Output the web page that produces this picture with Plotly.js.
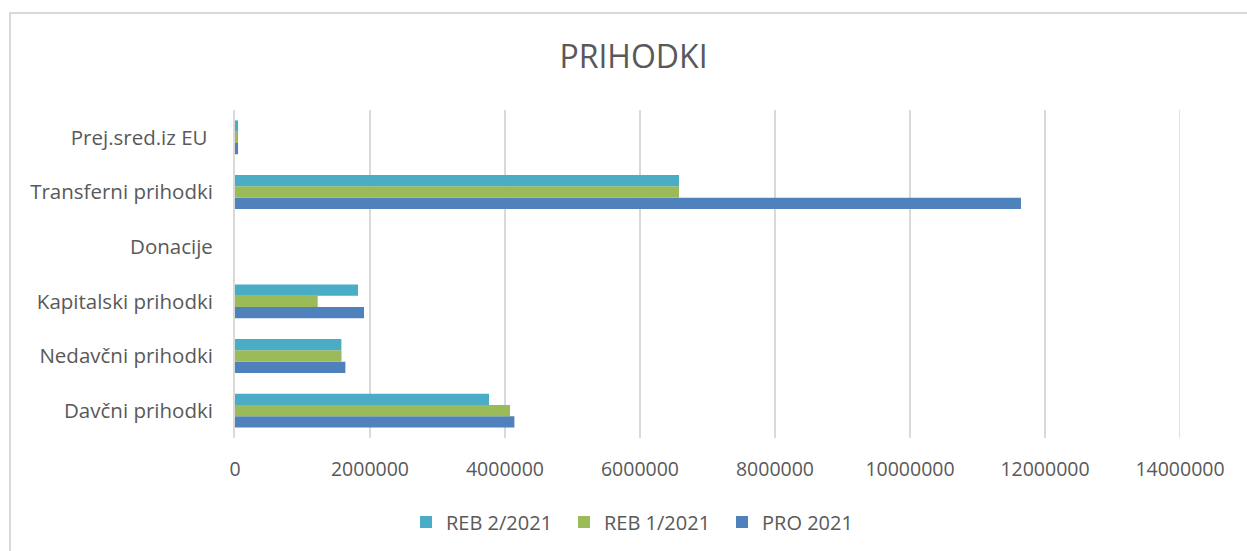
<!DOCTYPE html>
<html>
<head>
<meta charset="utf-8">
<script src="https://cdn.plot.ly/plotly-3.0.1.min.js"></script>
<style>html,body{margin:0;padding:0;background:#fff;}#chart{width:1247px;height:551px;}</style>
</head>
<body>
<div id="chart"></div>
<script>
const categories = ["Davčni prihodki", "Nedavčni prihodki", "Kapitalski prihodki", "Donacije", "Transferni prihodki", "Prej.sred.iz EU\u00a0"];
const pro2021 = [4139000, 1635000, 1911000, 0, 11644000, 45000];
const reb1_2021 = [4074000, 1578000, 1225000, 0, 6578000, 45000];
const reb2_2021 = [3763000, 1576000, 1822000, 0, 6578000, 45000];
const seriesNames = ["PRO 2021", "REB 1/2021", "REB 2/2021"];
const seriesColors = ["#4F81BD", "#9BBB59", "#4BACC6"];
const xTicks = [0, 2000000, 4000000, 6000000, 8000000, 10000000, 12000000, 14000000];

const font = "Open Sans, Calibri, sans-serif";
const vals = [pro2021, reb1_2021, reb2_2021];
const data = vals.map((v, i) => ({
  type: "bar", orientation: "h", y: categories, x: v, name: seriesNames[i],
  marker: {color: seriesColors[i], line: {width: 0}}, hoverinfo: "x+name"
}));

const W = 1247, H = 551, L = 235, R = 1180, T = 110, B = 438;
const layout = {
  width: W, height: H,
  margin: {l: L, r: W - R, t: T, b: H - B, pad: 0},
  paper_bgcolor: "#ffffff", plot_bgcolor: "#ffffff",
  barmode: "group", bargap: 0.38, bargroupgap: 0,
  title: {text: "PRIHODKI", font: {family: font, size: 32, color: "#595959"},
          x: 633.5 / W, xref: "container", xanchor: "center", y: 1 - 57 / H, yref: "container", yanchor: "middle"},
  xaxis: {range: [0, 14000000], tickvals: xTicks, ticktext: xTicks.map(String),
          showgrid: true, gridcolor: "#D9D9D9", gridwidth: 1.5, zeroline: false,
          showline: false, ticks: "", ticklabelstandoff: 17,
          tickfont: {family: font, size: 19.5, color: "#595959"}, fixedrange: true},
  yaxis: {type: "category", categoryorder: "array", categoryarray: categories,
          showgrid: false, zeroline: false, showline: true, linecolor: "#D9D9D9", linewidth: 2,
          ticks: "", ticklabelstandoff: 16,
          tickfont: {family: font, size: 20.5, color: "#595959"}, fixedrange: true},
  showlegend: true,
  legend: {orientation: "h", traceorder: "reversed", xref: "container", x: 643 / W, xanchor: "center",
           yref: "container", y: 1 - 522 / H, yanchor: "middle",
           font: {family: font, size: 20, color: "#595959"}, itemwidth: 30, entrywidth: 113,
           bgcolor: "rgba(0,0,0,0)"},
  shapes: [{type: "rect", xref: "paper", yref: "paper",
            x0: (10 - L) / (R - L), x1: (1300 - L) / (R - L),
            y0: (B - 600) / (B - T), y1: (B - 13) / (B - T),
            line: {color: "#D9D9D9", width: 2}, fillcolor: "rgba(0,0,0,0)", layer: "below"},
           {type: "line", xref: "x", yref: "paper", x0: xTicks[xTicks.length - 1], x1: xTicks[xTicks.length - 1],
            y0: 0, y1: 1, line: {color: "#D9D9D9", width: 1.5}, layer: "below"}]
};
Plotly.newPlot("chart", data, layout, {displayModeBar: false, staticPlot: true});
</script>
</body>
</html>
